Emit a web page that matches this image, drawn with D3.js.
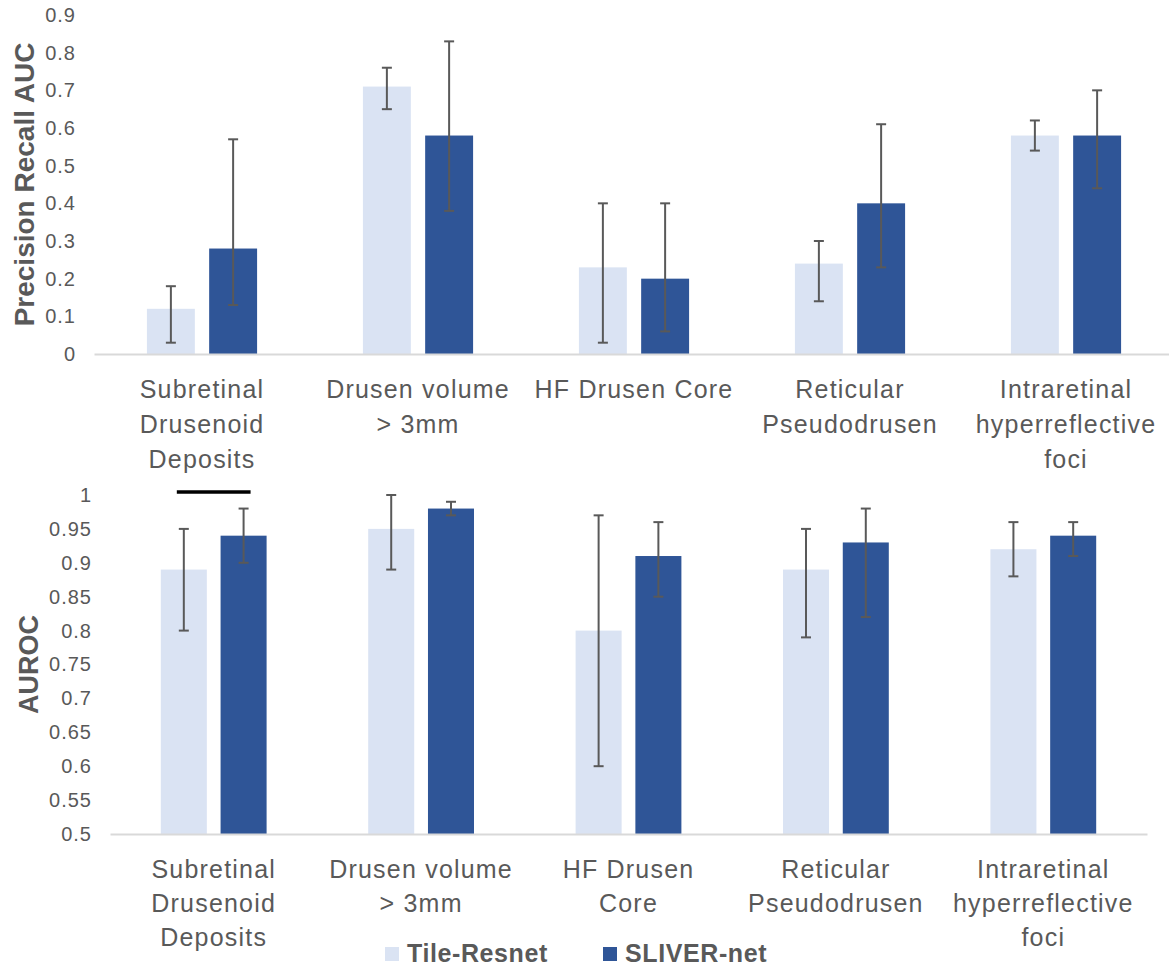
<!DOCTYPE html>
<html>
<head>
<meta charset="utf-8">
<script src="https://cdn.jsdelivr.net/npm/d3@7"></script>
<style>
    body { margin: 0; background: #fff; }
    text { font-family: "Liberation Sans", Arial, sans-serif; fill: #595959; }
</style>
</head>
<body>
<div id="grafico"></div>
<script>
const width = 1169;
const height = 968;

const series = ['Tile-Resnet', 'SLIVER-net'];
const colors = ['#dae3f3', '#2f5597'];

const categories = [
    'Subretinal Drusenoid Deposits',
    'Drusen volume > 3mm',
    'HF Drusen Core',
    'Reticular Pseudodrusen',
    'Intraretinal hyperreflective foci'
];

// etiquetas del eje x (cada grafico corta las lineas distinto)
const topLabels = [
    ['Subretinal', 'Drusenoid', 'Deposits'],
    ['Drusen volume', '> 3mm'],
    ['HF Drusen Core'],
    ['Reticular', 'Pseudodrusen'],
    ['Intraretinal', 'hyperreflective', 'foci']
];
const bottomLabels = [
    ['Subretinal', 'Drusenoid', 'Deposits'],
    ['Drusen volume', '> 3mm'],
    ['HF Drusen', 'Core'],
    ['Reticular', 'Pseudodrusen'],
    ['Intraretinal', 'hyperreflective', 'foci']
];

// Precision Recall AUC
const prTile = [0.12, 0.71, 0.23, 0.24, 0.58];
const prTileLow = [0.03, 0.65, 0.03, 0.14, 0.54];
const prTileHigh = [0.18, 0.76, 0.40, 0.30, 0.62];
const prSliver = [0.28, 0.58, 0.20, 0.40, 0.58];
const prSliverLow = [0.13, 0.38, 0.06, 0.23, 0.44];
const prSliverHigh = [0.57, 0.83, 0.40, 0.61, 0.70];

// AUROC
const aucTile = [0.89, 0.95, 0.80, 0.89, 0.92];
const aucTileLow = [0.80, 0.89, 0.60, 0.79, 0.88];
const aucTileHigh = [0.95, 1.00, 0.97, 0.95, 0.96];
const aucSliver = [0.94, 0.98, 0.91, 0.93, 0.94];
const aucSliverLow = [0.90, 0.97, 0.85, 0.82, 0.91];
const aucSliverHigh = [0.98, 0.99, 0.96, 0.98, 0.96];

const prTicks = [0, 0.1, 0.2, 0.3, 0.4, 0.5, 0.6, 0.7, 0.8, 0.9];
const prTickLabels = ['0', '0.1', '0.2', '0.3', '0.4', '0.5', '0.6', '0.7', '0.8', '0.9'];
const aucTicks = [0.5, 0.55, 0.6, 0.65, 0.7, 0.75, 0.8, 0.85, 0.9, 0.95, 1];
const aucTickLabels = ['0.5', '0.55', '0.6', '0.65', '0.7', '0.75', '0.8', '0.85', '0.9', '0.95', '1'];

// categoria con diferencia significativa (grafico AUROC)
const significant = ['Subretinal Drusenoid Deposits'];

const svg = d3.select('#grafico')
    .append('svg')
    .attr('width', width)
    .attr('height', height);

function drawPanel(p) {
    const g = svg.append('g');

    const x0 = d3.scaleBand()
        .domain(categories)
        .range(p.xRange);

    const x1 = d3.scaleBand()
        .domain(series)
        .range([0, x0.bandwidth()])
        .paddingInner(0.23)
        .paddingOuter(0.85);

    const y = d3.scaleLinear()
        .domain(p.yDomain)
        .range(p.yRange);

    const rows = categories.map((c, i) => ({
        cat: c,
        values: [
            { s: series[0], v: p.vals[0][i], lo: p.lows[0][i], hi: p.highs[0][i] },
            { s: series[1], v: p.vals[1][i], lo: p.lows[1][i], hi: p.highs[1][i] }
        ]
    }));

    // eje y (solo etiquetas)
    const yAxis = d3.axisLeft(y)
        .tickValues(p.ticks)
        .tickFormat((d, i) => p.tickLabels[i])
        .tickSize(0)
        .tickPadding(18);

    g.append('g')
        .attr('transform', `translate(${p.xRange[0]}, 0)`)
        .call(yAxis)
        .call(a => a.select('.domain').remove())
        .selectAll('text')
        .attr('font-size', 20)
        .attr('letter-spacing', 1)
        .attr('font-family', null)
        .style('fill', '#595959');

    // barras
    const grp = g.selectAll('.grp')
        .data(rows)
        .enter()
        .append('g')
        .attr('transform', d => `translate(${x0(d.cat)}, 0)`);

    grp.selectAll('rect')
        .data(d => d.values)
        .enter()
        .append('rect')
        .attr('x', d => x1(d.s))
        .attr('width', x1.bandwidth())
        .attr('y', d => y(d.v))
        .attr('height', d => y(p.yDomain[0]) - y(d.v))
        .attr('fill', (d, i) => colors[i]);

    // barras de error
    const err = grp.selectAll('.err')
        .data(d => d.values)
        .enter()
        .append('g')
        .attr('stroke', '#595959')
        .attr('stroke-width', 2);

    const cx = d => x1(d.s) + x1.bandwidth() / 2;
    err.append('line')
        .attr('x1', cx).attr('x2', cx)
        .attr('y1', d => y(d.lo)).attr('y2', d => y(d.hi));
    err.append('line')
        .attr('x1', d => cx(d) - 5).attr('x2', d => cx(d) + 5)
        .attr('y1', d => y(d.hi)).attr('y2', d => y(d.hi));
    err.append('line')
        .attr('x1', d => cx(d) - 5).attr('x2', d => cx(d) + 5)
        .attr('y1', d => y(d.lo)).attr('y2', d => y(d.lo));

    // eje x
    const xAxis = d3.axisBottom(x0)
        .tickSize(0)
        .tickFormat('');

    const xa = g.append('g')
        .attr('transform', `translate(0, ${y(p.yDomain[0])})`)
        .call(xAxis);
    xa.select('.domain')
        .attr('stroke', '#d9d9d9')
        .attr('stroke-width', 2);

    xa.selectAll('.tick text')
        .attr('font-size', 25)
        .attr('letter-spacing', 1.2)
        .attr('font-family', null)
        .attr('y', 0)
        .attr('dy', null)
        .style('fill', '#595959')
        .each(function (d, i) {
            const t = d3.select(this);
            p.labels[i].forEach((line, j) => {
                t.append('tspan')
                    .attr('x', 0)
                    .attr('y', 44 + j * p.lineH)
                    .text(line);
            });
        });

    // titulo del eje y
    g.append('text')
        .attr('transform', `translate(${p.titleX}, ${(p.yRange[0] + p.yRange[1]) / 2}) rotate(-90)`)
        .attr('text-anchor', 'middle')
        .attr('dy', '0.35em')
        .attr('font-size', p.titleSize)
        .attr('font-weight', 'bold')
        .text(p.title);

    return { x0, x1, y, g };
}

drawPanel({
    xRange: [94, 1174],
    yDomain: [0, 0.9],
    yRange: [354, 15],
    vals: [prTile, prSliver],
    lows: [prTileLow, prSliverLow],
    highs: [prTileHigh, prSliverHigh],
    ticks: prTicks,
    tickLabels: prTickLabels,
    labels: topLabels,
    lineH: 35,
    title: 'Precision Recall AUC',
    titleX: 24,
    titleSize: 28
});

const bottom = drawPanel({
    xRange: [110, 1147],
    yDomain: [0.5, 1],
    yRange: [834, 495],
    vals: [aucTile, aucSliver],
    lows: [aucTileLow, aucSliverLow],
    highs: [aucTileHigh, aucSliverHigh],
    ticks: aucTicks,
    tickLabels: aucTickLabels,
    labels: bottomLabels,
    lineH: 34,
    title: 'AUROC',
    titleX: 29,
    titleSize: 27
});

// linea de significancia
bottom.g.selectAll('.sig')
    .data(significant)
    .enter()
    .append('line')
    .attr('x1', d => bottom.x0(d) + bottom.x1(series[0]) + bottom.x1.bandwidth() / 2 - 7)
    .attr('x2', d => bottom.x0(d) + bottom.x1(series[1]) + bottom.x1.bandwidth() / 2 + 7)
    .attr('y1', bottom.y(1) - 3)
    .attr('y2', bottom.y(1) - 3)
    .attr('stroke', '#000')
    .attr('stroke-width', 3.5);

// legenda
const legend = svg.append('g')
    .attr('transform', 'translate(385, 953)');

const item = legend.selectAll('g')
    .data(series)
    .enter()
    .append('g')
    .attr('transform', (d, i) => `translate(${i * 218}, 0)`);

item.append('rect')
    .attr('x', 0)
    .attr('y', -6)
    .attr('width', 14)
    .attr('height', 14)
    .attr('fill', (d, i) => colors[i]);

item.append('text')
    .attr('x', 22)
    .attr('dy', '0.35em')
    .attr('font-size', 25)
    .attr('letter-spacing', 0.6)
    .attr('font-weight', 'bold')
    .text(d => d);
</script>
</body>
</html>
